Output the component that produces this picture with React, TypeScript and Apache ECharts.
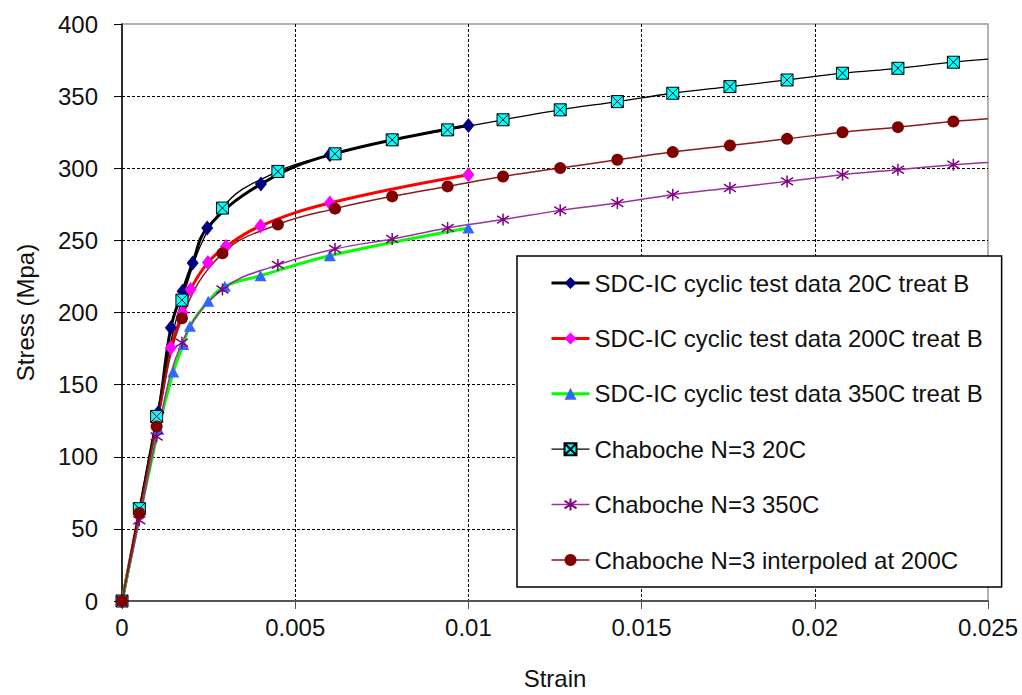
import React, { useEffect, useRef } from "react";
import * as echarts from "echarts";

// ---- data (strain, stress MPa) ----
const seriesNames = [
  "SDC-IC cyclic test data 20C treat B",
  "SDC-IC cyclic test data 200C treat B",
  "SDC-IC cyclic test data 350C treat B",
  "Chaboche N=3 20C",
  "Chaboche N=3 350C",
  "Chaboche N=3 interpoled at 200C",
];

const sdc20: number[][] = [
  [0, 0], [0.00105, 130.6], [0.00141, 189.4], [0.00175, 214.8], [0.00204, 234.4],
  [0.00246, 258.6], [0.00401, 289], [0.006, 309.3], [0.01, 329.6],
];
const sdc200: number[][] = [
  [0, 0], [0.001, 124], [0.00141, 175.6], [0.00175, 199.8], [0.00198, 216],
  [0.00248, 234.6], [0.003, 245.7], [0.004, 260], [0.006, 275.9], [0.01, 295.5],
];
const sdc350: number[][] = [
  [0, 0], [0.00105, 119], [0.00148, 158.7], [0.00177, 177.9], [0.00196, 190.5],
  [0.00249, 207.8], [0.00297, 218.2], [0.004, 225.5], [0.006, 239.4], [0.01, 258.6],
];
const chab20: number[][] = [
  [0, 0], [0.0005, 64], [0.001, 128], [0.00173, 208.6], [0.0029, 272.4], [0.0045, 297.8],
  [0.00615, 310], [0.0078, 319.7], [0.0094, 326.6], [0.011, 333.6], [0.01265, 340.5],
  [0.0143, 346.2], [0.0159, 352], [0.01755, 356.6], [0.0192, 361.2], [0.0208, 365.9],
  [0.0224, 369.3], [0.024, 373.5],
];
const chab20End: number[] = [0.025, 375.6];
const chab350: number[][] = [
  [0, 0], [0.0005, 56], [0.001, 114], [0.00173, 179], [0.0029, 216], [0.0045, 233],
  [0.00615, 244], [0.0078, 251], [0.0094, 258.6], [0.011, 264.4], [0.01265, 270.8],
  [0.0143, 275.9], [0.0159, 281.7], [0.01755, 286.3], [0.0192, 290.9], [0.0208, 295.5],
  [0.0224, 299], [0.024, 302.4],
];
const chab350End: number[] = [0.025, 304];
const chab200: number[][] = [
  [0, 0], [0.0005, 61], [0.001, 121], [0.00173, 196], [0.0029, 241], [0.0045, 261],
  [0.00615, 272], [0.0078, 280.5], [0.0094, 287.4], [0.011, 294.3], [0.01265, 300.1],
  [0.0143, 305.9], [0.0159, 311.2], [0.01755, 315.8], [0.0192, 320.4], [0.0208, 325],
  [0.0224, 328.5], [0.024, 332.4],
];
const chab200End: number[] = [0.025, 334.3];

const xTickLabels: Record<string, string> = {
  "0": "0", "0.005": "0.005", "0.01": "0.01", "0.015": "0.015", "0.02": "0.02", "0.025": "0.025",
};

const FONT = "'Liberation Sans', Arial, sans-serif";
const SQUARE_X = "path://M0,0L10,0L10,10L0,10ZM0,0L10,10M10,0L0,10";
const STAR = "path://M5,0L5,10M0.7,1.8L9.3,8.2M9.3,1.8L0.7,8.2";

function withEnd(pts: number[][], end: number[]) {
  return [...pts.map((p) => ({ value: p })), { value: end, symbol: "none" }];
}

export default function App() {
  const ref = useRef<HTMLDivElement>(null);

  useEffect(() => {
    if (!ref.current) return;
    const chart = echarts.init(ref.current, undefined, { renderer: "svg" });
    const common = {
      type: "line",
      smooth: 0.4,
      showAllSymbol: true,
      emphasis: { disabled: true },
    };
    chart.setOption({
      animation: false,
      backgroundColor: "#ffffff",
      grid: {
        left: 122,
        right: 34,
        top: 24,
        bottom: 93,
        show: true,
        borderColor: "#9a9a9a",
        borderWidth: 1.5,
        backgroundColor: "transparent",
      },
      xAxis: {
        type: "value",
        min: 0,
        max: 0.025,
        interval: 0.005,
        name: "Strain",
        nameLocation: "middle",
        nameGap: 65,
        nameTextStyle: { fontSize: 24, fontFamily: FONT, color: "#111" },
        axisLine: { show: true, onZero: false, lineStyle: { color: "#555", width: 2 } },
        axisTick: { show: true, inside: false, length: 8, lineStyle: { color: "#555", width: 1 } },
        axisLabel: {
          fontSize: 24,
          fontFamily: FONT,
          color: "#111",
          margin: 14,
          formatter: (v: number) => xTickLabels[String(+v.toFixed(3))] ?? String(+v.toFixed(3)),
        },
        splitLine: {
          show: true,
          showMinLine: false,
          showMaxLine: false,
          lineStyle: { color: "#000", type: [3, 2], width: 1 },
        },
      },
      yAxis: {
        type: "value",
        min: 0,
        max: 400,
        interval: 50,
        name: "Stress (Mpa)",
        nameLocation: "middle",
        nameGap: 85,
        nameTextStyle: { fontSize: 24, fontFamily: FONT, color: "#111" },
        axisLine: { show: true, onZero: false, lineStyle: { color: "#000", width: 1.5 } },
        axisTick: { show: true, inside: false, length: 8, lineStyle: { color: "#000", width: 1 } },
        axisLabel: { fontSize: 24, fontFamily: FONT, color: "#111", margin: 24 },
        splitLine: {
          show: true,
          showMinLine: false,
          showMaxLine: false,
          lineStyle: { color: "#000", type: [3, 2], width: 1 },
        },
      },
      legend: {
        orient: "vertical",
        left: 517,
        top: 256,
        padding: [15, 19, 15, 33],
        itemGap: 31.4,
        itemWidth: 38,
        itemHeight: 15,
        backgroundColor: "#ffffff",
        borderColor: "#000",
        borderWidth: 1.5,
        borderRadius: 0,
        selectedMode: false,
        lineStyle: { width: "inherit" },
        textStyle: { fontSize: 24, fontFamily: FONT, color: "#111", lineHeight: 24 },
        data: seriesNames,
      },
      series: [
        {
          ...common,
          name: seriesNames[0],
          data: sdc20,
          symbol: "diamond",
          symbolSize: [12, 15],
          lineStyle: { color: "#000000", width: 3 },
          itemStyle: { color: "#000080" },
        },
        {
          ...common,
          name: seriesNames[1],
          data: sdc200,
          symbol: "diamond",
          symbolSize: [12, 15],
          lineStyle: { color: "#ff0000", width: 3 },
          itemStyle: { color: "#ff00ff" },
        },
        {
          ...common,
          name: seriesNames[2],
          data: sdc350,
          symbol: "triangle",
          symbolSize: [12, 11],
          lineStyle: { color: "#00ff00", width: 3 },
          itemStyle: { color: "#3366ff" },
        },
        {
          ...common,
          name: seriesNames[3],
          data: withEnd(chab20, chab20End),
          symbol: SQUARE_X,
          symbolSize: 12,
          lineStyle: { color: "#000000", width: 1.3 },
          itemStyle: { color: "#00ffff", borderColor: "#000000", borderWidth: 1 },
        },
        {
          ...common,
          name: seriesNames[4],
          data: withEnd(chab350, chab350End),
          symbol: STAR,
          symbolSize: 12,
          lineStyle: { color: "#993399", width: 1.5 },
          itemStyle: { color: "rgba(0,0,0,0)", borderColor: "#800080", borderWidth: 1.5 },
        },
        {
          ...common,
          name: seriesNames[5],
          data: withEnd(chab200, chab200End),
          symbol: "circle",
          symbolSize: 12,
          lineStyle: { color: "#8b1a1a", width: 1.5 },
          itemStyle: { color: "#800000" },
        },
      ],
    });
    return () => chart.dispose();
  }, []);

  return (
    <div
      ref={ref}
      style={{ position: "fixed", left: 0, top: 0, width: 1022, height: 695, background: "#fff" }}
    />
  );
}
